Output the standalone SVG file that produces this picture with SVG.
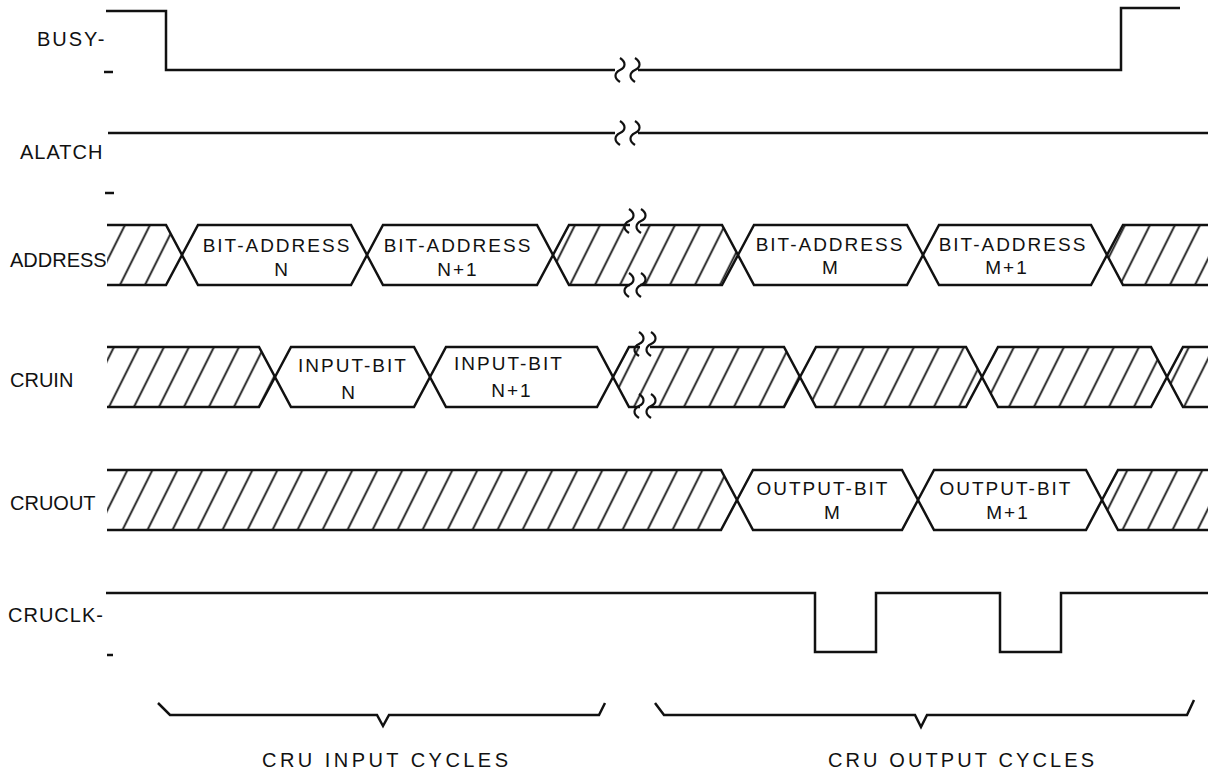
<svg xmlns="http://www.w3.org/2000/svg" width="1208" height="774" viewBox="0 0 1208 774">
<style>
.sig{fill:none;stroke:#111;stroke-width:2.5;stroke-linejoin:miter}
.hat{fill:url(#hatch);stroke:none}
.brk{fill:none;stroke:#111;stroke-width:2.2}
.gap{fill:#fff;stroke:none}
.lbl{font-family:"Liberation Sans",Arial,sans-serif;font-size:20px;fill:#111}
.box{font-family:"Liberation Sans",Arial,sans-serif;font-size:19px;fill:#111;text-anchor:middle;letter-spacing:2px}
.cap{font-family:"Liberation Sans",Arial,sans-serif;font-size:20px;fill:#111}
</style>
<defs>
<pattern id="hatch" patternUnits="userSpaceOnUse" width="25" height="60" patternTransform="skewX(-26.57)">
<line x1="12.5" y1="-5" x2="12.5" y2="65" stroke="#111" stroke-width="2"/>
</pattern>
<path id="sq" d="M0,-12 C6,-8 6,-3 0,0 C-6,3 -6,8 0,12"/>
</defs>
<rect width="1208" height="774" fill="#fff"/>

<g id="busy">
<text class="lbl" x="37" y="46" letter-spacing="2">BUSY-</text>
<line x1="104" y1="72" x2="113" y2="72" class="sig"/>
<path class="sig" d="M106,11 H166 V70 H615"/>
<path class="sig" d="M638,70 H1121 V8 H1180"/>
<use href="#sq" class="brk" x="620" y="70"/>
<use href="#sq" class="brk" x="635" y="70"/>
</g>

<g id="alatch">
<text class="lbl" x="20" y="159" letter-spacing="1">ALATCH</text>
<line x1="105" y1="193" x2="114" y2="193" class="sig"/>
<path class="sig" d="M108,133 H615"/>
<path class="sig" d="M638,133 H1208"/>
<use href="#sq" class="brk" x="620" y="133"/>
<use href="#sq" class="brk" x="635" y="133"/>
</g>

<g id="address">
<text class="lbl" x="10" y="267">ADDRESS</text>
<polygon class="hat" points="107,225 166,225 182,255 166,285 107,285"/>
<polygon class="hat" points="553,255 569,225 722,225 738,255 722,285 569,285"/>
<polygon class="hat" points="1107,255 1123,225 1208,225 1208,285 1123,285"/>
<path class="sig" d="M107,225 H166 L182,255 L166,285 H107"/>
<path class="sig" d="M182,255 L198,225 H351 L367,255 L351,285 H198 Z"/>
<path class="sig" d="M367,255 L383,225 H537 L553,255 L537,285 H383 Z"/>
<path class="sig" d="M553,255 L569,225 H722 L738,255 L722,285 H569 Z"/>
<path class="sig" d="M738,255 L754,225 H907 L923,255 L907,285 H754 Z"/>
<path class="sig" d="M923,255 L939,225 H1091 L1107,255 L1091,285 H939 Z"/>
<path class="sig" d="M1208,225 H1123 L1107,255 L1123,285 H1208"/>
<rect class="gap" x="630" y="221" width="10" height="8"/>
<rect class="gap" x="630" y="281" width="10" height="8"/>
<use href="#sq" class="brk" x="629" y="221"/>
<use href="#sq" class="brk" x="641" y="221"/>
<use href="#sq" class="brk" x="629" y="285"/>
<use href="#sq" class="brk" x="641" y="285"/>
<text class="box" x="277" y="252">BIT-ADDRESS</text>
<text class="box" x="282" y="276">N</text>
<text class="box" x="458" y="252">BIT-ADDRESS</text>
<text class="box" x="458" y="276">N+1</text>
<text class="box" x="830" y="251">BIT-ADDRESS</text>
<text class="box" x="831" y="274">M</text>
<text class="box" x="1013" y="251">BIT-ADDRESS</text>
<text class="box" x="1007" y="274">M+1</text>
</g>

<g id="cruin">
<text class="lbl" x="10" y="387">CRUIN</text>
<polygon class="hat" points="107,347 259,347 275,377 259,407 107,407"/>
<polygon class="hat" points="613,377 629,347 784,347 800,377 784,407 629,407"/>
<polygon class="hat" points="800,377 816,347 966,347 982,377 966,407 816,407"/>
<polygon class="hat" points="982,377 998,347 1151,347 1167,377 1151,407 998,407"/>
<polygon class="hat" points="1167,377 1183,347 1208,347 1208,407 1183,407"/>
<path class="sig" d="M107,347 H259 L275,377 L259,407 H107"/>
<path class="sig" d="M275,377 L291,347 H414 L430,377 L414,407 H291 Z"/>
<path class="sig" d="M430,377 L446,347 H597 L613,377 L597,407 H446 Z"/>
<path class="sig" d="M613,377 L629,347 H784 L800,377 L784,407 H629 Z"/>
<path class="sig" d="M800,377 L816,347 H966 L982,377 L966,407 H816 Z"/>
<path class="sig" d="M982,377 L998,347 H1151 L1167,377 L1151,407 H998 Z"/>
<path class="sig" d="M1208,347 H1183 L1167,377 L1183,407 H1208"/>
<rect class="gap" x="640" y="343" width="10" height="8"/>
<rect class="gap" x="640" y="403" width="10" height="8"/>
<use href="#sq" class="brk" x="639" y="344"/>
<use href="#sq" class="brk" x="651" y="344"/>
<use href="#sq" class="brk" x="639" y="406"/>
<use href="#sq" class="brk" x="651" y="406"/>
<text class="box" x="353" y="372">INPUT-BIT</text>
<text class="box" x="349" y="399">N</text>
<text class="box" x="509" y="370">INPUT-BIT</text>
<text class="box" x="512" y="397">N+1</text>
</g>

<g id="cruout">
<text class="lbl" x="10" y="510">CRUOUT</text>
<polygon class="hat" points="107,470 721,470 737,500 721,530 107,530"/>
<polygon class="hat" points="1102,500 1118,470 1208,470 1208,530 1118,530"/>
<path class="sig" d="M107,470 H721 L737,500 L721,530 H107"/>
<path class="sig" d="M737,500 L753,470 H902 L918,500 L902,530 H753 Z"/>
<path class="sig" d="M918,500 L934,470 H1086 L1102,500 L1086,530 H934 Z"/>
<path class="sig" d="M1208,470 H1118 L1102,500 L1118,530 H1208"/>
<text class="box" x="823" y="495">OUTPUT-BIT</text>
<text class="box" x="833" y="519">M</text>
<text class="box" x="1006" y="495">OUTPUT-BIT</text>
<text class="box" x="1008" y="519">M+1</text>
</g>

<g id="cruclk">
<text class="lbl" x="8" y="622" letter-spacing="1">CRUCLK-</text>
<line x1="107" y1="655" x2="113" y2="655" class="sig"/>
<path class="sig" d="M106,593 H815 V652 H876 V593 H1000 V652 H1061 V593 H1208"/>
</g>

<g id="connectors">
<path class="sig" d="M158,703 L170,715 H377 L383,726 L389,715 H599 L605,703"/>
<path class="sig" d="M655,703 L664,715 H915 L921,727 L927,715 H1187 L1194,700"/>
</g>

<g id="captions">
<text class="cap" x="262" y="767" textLength="246" lengthAdjust="spacing">CRU  INPUT  CYCLES</text>
<text class="cap" x="828" y="767" textLength="266" lengthAdjust="spacing">CRU  OUTPUT  CYCLES</text>
</g>
</svg>
